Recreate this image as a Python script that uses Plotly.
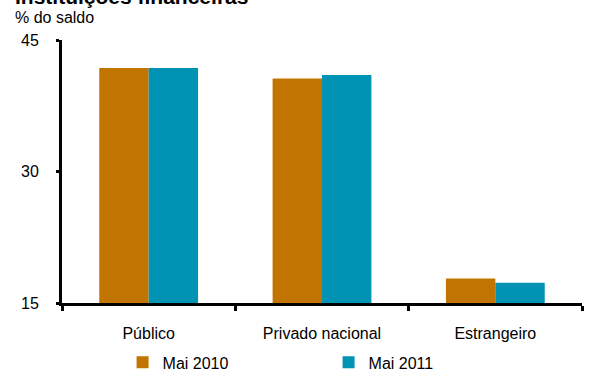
import plotly.graph_objects as go

categories = ["Público", "Privado nacional", "Estrangeiro"]
mai_2010 = [41.8, 40.6, 17.8]
mai_2011 = [41.8, 41.0, 17.3]
series_names = ["Mai 2010", "Mai 2011"]
y_ticks = [15, 30, 45]

ORANGE = "#C27400"
BLUE = "#0093B4"
FONT = "Liberation Sans, Arial, sans-serif"

fig = go.Figure()
fig.add_trace(go.Bar(x=categories, y=mai_2010, name=series_names[0],
                     marker=dict(color=ORANGE, line=dict(width=0))))
fig.add_trace(go.Bar(x=categories, y=mai_2011, name=series_names[1],
                     marker=dict(color=BLUE, line=dict(width=0))))

fig.update_layout(
    width=598, height=372,
    margin=dict(l=62, r=16, t=40, b=69, autoexpand=False),
    paper_bgcolor="white", plot_bgcolor="white",
    font=dict(family=FONT, size=16, color="black"),
    barmode="group", bargap=0.43, bargroupgap=0,
    showlegend=True,
    legend=dict(orientation="h", xref="container", yref="paper",
                x=0.205, xanchor="left", y=-0.226, yanchor="middle",
                entrywidth=161, entrywidthmode="pixels",
                font=dict(size=16), itemwidth=30,
                bgcolor="rgba(0,0,0,0)"),
    annotations=[
        dict(text="<b>Instituições financeiras</b>", xref="paper", yref="paper",
             x=-0.094, y=1.166, xanchor="left", yanchor="middle",
             showarrow=False, font=dict(size=21, family=FONT)),
        dict(text="% do saldo", xref="paper", yref="paper",
             x=-0.094, y=1.087, xanchor="left", yanchor="middle",
             showarrow=False, font=dict(size=16, family=FONT)),
    ],
)

fig.update_yaxes(range=[15, 45], tickvals=y_ticks, showgrid=False, zeroline=False,
                 showline=True, linecolor="black", linewidth=3,
                 ticks="outside", ticklen=3, tickwidth=3, tickcolor="black",
                 ticklabelstandoff=14, tickfont=dict(size=16))
fig.update_xaxes(showgrid=False, showline=True, linecolor="black", linewidth=3,
                 ticks="outside", tickson="boundaries", ticklen=5, tickwidth=3,
                 tickcolor="black", ticklabelstandoff=14, tickfont=dict(size=16))

fig.write_html("out.html")
